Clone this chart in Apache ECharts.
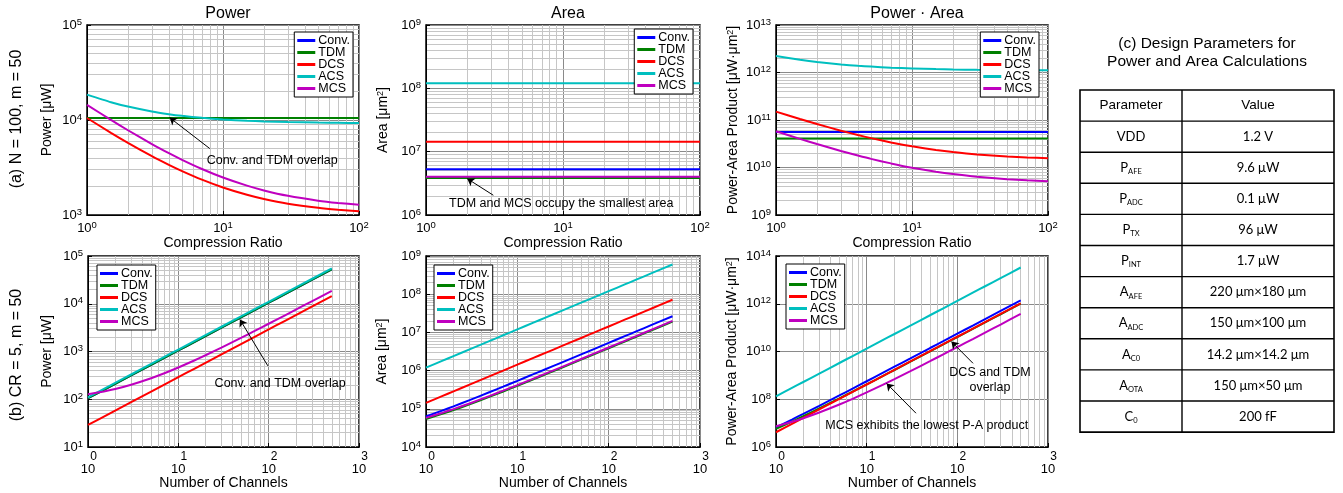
<!DOCTYPE html>
<html>
<head>
<meta charset="utf-8">
<script src="https://cdn.jsdelivr.net/npm/echarts@6/dist/echarts.min.js"></script>
<style>
  html, body { margin: 0; padding: 0; background: #fff; }
  #chart { width: 1343px; height: 493px; }
</style>
</head>
<body>
<div id="chart"></div>
<script>
const FONT = '"Liberation Sans", Arial, sans-serif';
const seriesNames = ['Conv.', 'TDM', 'DCS', 'ACS', 'MCS'];
const colors = ['#0000ff', '#008000', '#ff0000', '#00bfbf', '#bf00bf'];

// (a) sweep of compression ratio, N = 100, m = 50  (order of rows = seriesNames)
const crValues = [1, 1.5, 2, 3, 4, 5, 7, 10, 15, 20, 30, 50, 70, 100];
const powerByCR = [
  [10500, 10500, 10500, 10500, 10500, 10500, 10500, 10500, 10500, 10500, 10500, 10500, 10500, 10500],
  [10500, 10500, 10500, 10500, 10500, 10500, 10500, 10500, 10500, 10500, 10500, 10500, 10500, 10500],
  [10500, 7333, 5750, 4167, 3375, 2900, 2357, 1950, 1633, 1475, 1317, 1190, 1136, 1095],
  [18500, 15400, 13850, 12300, 11525, 11060, 10530, 10130, 9820, 9665, 9510, 9386, 9333, 9293],
  [14450, 10017, 7800, 5583, 4475, 3810, 3050, 2480, 2037, 1815, 1593, 1416, 1340, 1283]
];
const areaByCR = [
  [5.3e6, 5.3e6, 5.3e6, 5.3e6, 5.3e6, 5.3e6, 5.3e6, 5.3e6, 5.3e6, 5.3e6, 5.3e6, 5.3e6, 5.3e6, 5.3e6],
  [3.85e6, 3.85e6, 3.85e6, 3.85e6, 3.85e6, 3.85e6, 3.85e6, 3.85e6, 3.85e6, 3.85e6, 3.85e6, 3.85e6, 3.85e6, 3.85e6],
  [1.43e7, 1.43e7, 1.43e7, 1.43e7, 1.43e7, 1.43e7, 1.43e7, 1.43e7, 1.43e7, 1.43e7, 1.43e7, 1.43e7, 1.43e7, 1.43e7],
  [1.2e8, 1.2e8, 1.2e8, 1.2e8, 1.2e8, 1.2e8, 1.2e8, 1.2e8, 1.2e8, 1.2e8, 1.2e8, 1.2e8, 1.2e8, 1.2e8],
  [4.0e6, 4.0e6, 4.0e6, 4.0e6, 4.0e6, 4.0e6, 4.0e6, 4.0e6, 4.0e6, 4.0e6, 4.0e6, 4.0e6, 4.0e6, 4.0e6]
];
const paByCR = [
  [5.6e10, 5.6e10, 5.6e10, 5.6e10, 5.6e10, 5.6e10, 5.6e10, 5.6e10, 5.6e10, 5.6e10, 5.6e10, 5.6e10, 5.6e10, 5.6e10],
  [4.1e10, 4.1e10, 4.1e10, 4.1e10, 4.1e10, 4.1e10, 4.1e10, 4.1e10, 4.1e10, 4.1e10, 4.1e10, 4.1e10, 4.1e10, 4.1e10],
  [1.50e11, 1.05e11, 8.22e10, 5.96e10, 4.83e10, 4.15e10, 3.37e10, 2.79e10, 2.34e10, 2.11e10, 1.88e10, 1.70e10, 1.62e10, 1.57e10],
  [2.22e12, 1.85e12, 1.66e12, 1.48e12, 1.38e12, 1.33e12, 1.26e12, 1.22e12, 1.18e12, 1.16e12, 1.14e12, 1.13e12, 1.12e12, 1.115e12],
  [5.78e10, 4.01e10, 3.12e10, 2.23e10, 1.79e10, 1.52e10, 1.22e10, 9.92e9, 8.15e9, 7.26e9, 6.37e9, 5.66e9, 5.36e9, 5.13e9]
];

// (b) sweep of number of channels, CR = 5, m = 50
const channelValues = [1, 1.5, 2, 3, 5, 7, 10, 15, 20, 30, 50, 70, 100, 150, 200, 300, 500];
const powerByN = [
  [105, 157.5, 210, 315, 525, 735, 1050, 1575, 2100, 3150, 5250, 7350, 10500, 15750, 21000, 31500, 52500],
  [105, 157.5, 210, 315, 525, 735, 1050, 1575, 2100, 3150, 5250, 7350, 10500, 15750, 21000, 31500, 52500],
  [29, 43.5, 58, 87, 145, 203, 290, 435, 580, 870, 1450, 2030, 2900, 4350, 5800, 8700, 14500],
  [110, 165, 220, 330, 550, 770, 1100, 1650, 2200, 3300, 5500, 7700, 11000, 16500, 22000, 33000, 55000],
  [127, 146, 164, 202, 276, 350, 462, 648, 834, 1206, 1950, 2694, 3810, 5670, 7530, 11250, 18690]
];
const areaByN = [
  [6.3e4, 8.95e4, 1.16e5, 1.69e5, 2.75e5, 3.81e5, 5.4e5, 8.05e5, 1.07e6, 1.6e6, 2.66e6, 3.72e6, 5.31e6, 7.96e6, 1.061e7, 1.591e7, 2.651e7],
  [5.43e4, 7.35e4, 9.26e4, 1.309e5, 2.075e5, 2.841e5, 3.99e5, 5.905e5, 7.82e5, 1.165e6, 1.931e6, 2.697e6, 3.846e6, 5.761e6, 7.676e6, 1.1506e7, 1.9166e7],
  [1.43e5, 2.15e5, 2.86e5, 4.29e5, 7.15e5, 1.0e6, 1.43e6, 2.15e6, 2.86e6, 4.29e6, 7.15e6, 1.0e7, 1.43e7, 2.15e7, 2.86e7, 4.29e7, 7.15e7],
  [1.2e6, 1.8e6, 2.4e6, 3.6e6, 6e6, 8.4e6, 1.2e7, 1.8e7, 2.4e7, 3.6e7, 6e7, 8.4e7, 1.2e8, 1.8e8, 2.4e8, 3.6e8, 6e8],
  [5.8e4, 7.8e4, 9.8e4, 1.38e5, 2.18e5, 2.98e5, 4.18e5, 6.18e5, 8.18e5, 1.218e6, 2.018e6, 2.818e6, 4.018e6, 6.018e6, 8.018e6, 1.2018e7, 2.0018e7]
];
const paByN = [
  [6.62e6, 1.41e7, 2.44e7, 5.32e7, 1.44e8, 2.80e8, 5.67e8, 1.27e9, 2.25e9, 5.04e9, 1.40e10, 2.73e10, 5.58e10, 1.25e11, 2.23e11, 5.01e11, 1.39e12],
  [5.70e6, 1.16e7, 1.94e7, 4.12e7, 1.09e8, 2.09e8, 4.19e8, 9.30e8, 1.64e9, 3.67e9, 1.01e10, 1.98e10, 4.04e10, 9.07e10, 1.61e11, 3.62e11, 1.01e12],
  [4.15e6, 9.34e6, 1.66e7, 3.74e7, 1.04e8, 2.03e8, 4.15e8, 9.34e8, 1.66e9, 3.74e9, 1.04e10, 2.03e10, 4.15e10, 9.34e10, 1.66e11, 3.74e11, 1.04e12],
  [1.32e8, 2.97e8, 5.28e8, 1.188e9, 3.3e9, 6.47e9, 1.32e10, 2.97e10, 5.28e10, 1.188e11, 3.3e11, 6.47e11, 1.32e12, 2.97e12, 5.28e12, 1.188e13, 3.3e13],
  [7.37e6, 1.14e7, 1.61e7, 2.79e7, 6.02e7, 1.04e8, 1.93e8, 4.00e8, 6.82e8, 1.47e9, 3.94e9, 7.59e9, 1.53e10, 3.41e10, 6.04e10, 1.35e11, 3.74e11]
];

// design parameter table
const paramSymbols = ['VDD', 'P', 'P', 'P', 'P', 'A', 'A', 'A', 'A', 'C'];
const paramSubs = ['', 'AFE', 'ADC', 'TX', 'INT', 'AFE', 'ADC', 'C0', 'OTA', '0'];
const paramValues = ['1.2 V', '9.6 μW', '0.1 μW', '96 μW', '1.7 μW', '220 μm×180 μm',
  '150 μm×100 μm', '14.2 μm×14.2 μm', '150 μm×50 μm', '200 fF'];

const panels = [
  { grid: { left: 87, top: 25, width: 272, height: 190 }, xs: crValues, ys: powerByCR, xr: [1, 100], yr: [1e3, 1e5], yStep: 1,
    title: 'Power', xName: 'Compression Ratio', yName: 'Power [μW]', yGap: 33, legend: { right: 990, top: 32 } },
  { grid: { left: 426, top: 25, width: 274, height: 190 }, xs: crValues, ys: areaByCR, xr: [1, 100], yr: [1e6, 1e9], yStep: 1,
    title: 'Area', xName: 'Compression Ratio', yName: 'Area [μm{s|2}]', yGap: 36, legend: { right: 650, top: 29 } },
  { grid: { left: 776, top: 25, width: 272, height: 190 }, xs: crValues, ys: paByCR, xr: [1, 100], yr: [1e9, 1e13], yStep: 1,
    title: 'Power · Area', xName: 'Compression Ratio', yName: 'Power-Area Product [μW·μm{s|2}]', yGap: 36, legend: { right: 304, top: 32 } },
  { grid: { left: 88, top: 256, width: 271, height: 191 }, xs: channelValues, ys: powerByN, xr: [1, 1000], yr: [1e1, 1e5], yStep: 1,
    xName: 'Number of Channels', yName: 'Power [μW]', yGap: 34, legend: { left: 97, top: 265 } },
  { grid: { left: 426, top: 256, width: 274, height: 191 }, xs: channelValues, ys: areaByN, xr: [1, 1000], yr: [1e4, 1e9], yStep: 1,
    xName: 'Number of Channels', yName: 'Area [μm{s|2}]', yGap: 37, legend: { left: 434, top: 265 } },
  { grid: { left: 776, top: 256, width: 272, height: 191 }, xs: channelValues, ys: paByN, xr: [1, 1000], yr: [1e6, 1e14], yStep: 2,
    xName: 'Number of Channels', yName: 'Power-Area Product [μW·μm{s|2}]', yGap: 37, legend: { left: 786, top: 264 }, noMinorY: true }
];

const notes = [
  { panel: 0, text: 'Conv. and TDM overlap', at: [23, 3.7e3], tail: [8, 5.0e3], tip: [4.05, 1.06e4] },
  { panel: 1, text: 'TDM and MCS occupy the smallest area', at: [9.7, 1.54e6], tail: [3.1, 2.05e6], tip: [2.0, 3.75e6] },
  { panel: 3, text: 'Conv. and TDM overlap', at: [134, 215], tail: [98, 500], tip: [48, 4.7e3] },
  { panel: 5, text: 'DCS and TDM\noverlap', at: [229, 6.3e8], tail: [149, 3.2e9], tip: [86, 2.6e10] },
  { panel: 5, text: 'MCS exhibits the lowest P-A product', at: [46, 8.3e6], tail: [35, 2.6e7], tip: [16.6, 4.6e8] }
];

function decadeMinors(lo, hi) {
  const out = [];
  for (let e = Math.round(Math.log10(lo)); e < Math.round(Math.log10(hi)); e++) {
    for (let m = 2; m <= 9; m++) out.push(m * Math.pow(10, e));
  }
  return out;
}
const expOf = v => Math.round(Math.log10(v));
const supRich = {
  b: { fontSize: 13, fontFamily: FONT, color: '#000', lineHeight: 16 },
  e: { fontSize: 9.5, fontFamily: FONT, color: '#000', lineHeight: 8, verticalAlign: 'top' }
};

const option = {
  animation: false,
  backgroundColor: '#fff',
  title: panels.filter(p => p.title).map(p => ({
    text: p.title, left: p.grid.left + p.grid.width / 2, top: 1, textAlign: 'center',
    textStyle: { fontSize: 16, fontWeight: 'normal', fontFamily: FONT, color: '#000' }
  })),
  grid: panels.map(p => Object.assign({ show: true, borderColor: '#000', borderWidth: 1.5, backgroundColor: '#fff', outerBoundsMode: 'none' }, p.grid)),
  legend: panels.map(p => Object.assign({
    orient: 'vertical', data: seriesNames, icon: 'rect', itemWidth: 18, itemHeight: 3, itemGap: -1, z: 8,
    backgroundColor: '#fff', borderColor: '#000', borderWidth: 1, padding: [2, 3, 2, 3], selectedMode: false,
    textStyle: { fontSize: 12.5, fontFamily: FONT, color: '#000', lineHeight: 11, padding: [0, 0, 0, -2] }
  }, p.legend)),
  xAxis: panels.map((p, i) => ({
    type: 'log', logBase: 10, gridIndex: i, min: p.xr[0], max: p.xr[1], interval: 1,
    name: p.xName, nameLocation: 'middle', nameGap: i < 3 ? 21 : 27,
    nameTextStyle: { fontSize: 14, fontFamily: FONT, color: '#000' },
    axisLine: { show: true, lineStyle: { color: '#000', width: 1 } },
    axisTick: { show: true, inside: true, length: 4, lineStyle: { color: '#000' } },
    splitLine: { show: true, lineStyle: { color: '#8a8a8a', width: 1 } },
    axisLabel: i < 3
      ? { margin: 5, formatter: v => '{b|10}{e|' + expOf(v) + '}', rich: supRich }
      : { margin: 4, formatter: v => '{e|' + expOf(v) + '}\n{b|10}', rich: {
          e: { fontSize: 12, fontFamily: FONT, color: '#000', lineHeight: 11, padding: [0, 0, 0, 11] },
          b: { fontSize: 13, fontFamily: FONT, color: '#000', lineHeight: 14 } } }
  })),
  yAxis: panels.map((p, i) => ({
    type: 'log', logBase: 10, gridIndex: i, min: p.yr[0], max: p.yr[1], interval: p.yStep,
    name: p.yName, nameLocation: 'middle', nameGap: p.yGap,
    nameTextStyle: { fontSize: 14, fontFamily: FONT, color: '#000',
      rich: { s: { fontSize: 9, fontFamily: FONT, color: '#000', lineHeight: 8, verticalAlign: 'top' } } },
    axisLine: { show: true, lineStyle: { color: '#000', width: 1 } },
    axisTick: { show: true, inside: true, length: 4, lineStyle: { color: '#000' } },
    splitLine: { show: true, lineStyle: { color: '#8a8a8a', width: 1 } },
    axisLabel: { margin: 5, formatter: v => '{b|10}{e|' + expOf(v) + '}', rich: supRich }
  })),
  series: [],
  graphic: []
};

panels.forEach((p, i) => {
  // minor log grid, kept under the curves
  const gridLines = decadeMinors(p.xr[0], p.xr[1]).map(v => ({ xAxis: v }));
  if (!p.noMinorY) decadeMinors(p.yr[0], p.yr[1]).forEach(v => gridLines.push({ yAxis: v }));
  option.series.push({
    type: 'line', name: 'grid' + i, xAxisIndex: i, yAxisIndex: i, data: [], silent: true, z: 0,
    markLine: { silent: true, z: 0, symbol: ['none', 'none'], label: { show: false },
      lineStyle: { color: '#c6c6c6', width: 1, type: 'solid' }, emphasis: { disabled: true }, data: gridLines }
  });
  seriesNames.forEach((name, j) => {
    option.series.push({
      type: 'line', name, xAxisIndex: i, yAxisIndex: i, showSymbol: false, smooth: 0.2, z: 3,
      lineStyle: { color: colors[j], width: 2 }, itemStyle: { color: colors[j] },
      data: p.xs.map((x, k) => [x, p.ys[j][k]])
    });
  });
});

notes.forEach((n, k) => {
  option.series.push({
    type: 'line', name: 'note' + k, xAxisIndex: n.panel, yAxisIndex: n.panel, data: [], silent: true, z: 6,
    markLine: { silent: true, z: 6, symbol: ['none', 'arrow'], symbolSize: 7, label: { show: false },
      lineStyle: { color: '#000', width: 1, type: 'solid' }, emphasis: { disabled: true },
      data: [[{ coord: n.tail }, { coord: n.tip }]] },
    markPoint: { silent: true, z: 6, symbol: 'rect', symbolSize: 1, itemStyle: { color: 'rgba(0,0,0,0)' },
      label: { show: true, position: 'inside', color: '#000', fontSize: 12.5, fontFamily: FONT, lineHeight: 15, formatter: n.text },
      data: [{ coord: n.at }] }
  });
});

// row captions
option.graphic.push(
  { type: 'text', x: 17, y: 119, rotation: Math.PI / 2,
    style: { text: '(a) N = 100, m = 50', fontSize: 16, fontFamily: FONT, fill: '#000', align: 'center', verticalAlign: 'middle' } },
  { type: 'text', x: 17, y: 355, rotation: Math.PI / 2,
    style: { text: '(b) CR = 5, m = 50', fontSize: 16, fontFamily: FONT, fill: '#000', align: 'center', verticalAlign: 'middle' } },
  { type: 'text', x: 1207, y: 53,
    style: { text: '(c) Design Parameters for\nPower and Area Calculations', fontSize: 15.5, lineHeight: 18,
      fontFamily: FONT, fill: '#000', align: 'center', verticalAlign: 'middle' } }
);

// parameter table
const tLeft = 1080, tTop = 90, tSplit = 1182, tRight = 1334, rowH = 31.1;
const nRows = paramValues.length + 1;
option.graphic.push({ type: 'rect', shape: { x: tLeft, y: tTop, width: tRight - tLeft, height: rowH * nRows },
  style: { fill: '#fff', stroke: '#000', lineWidth: 1.6 } });
option.graphic.push({ type: 'line', shape: { x1: tSplit, y1: tTop, x2: tSplit, y2: tTop + rowH * nRows },
  style: { stroke: '#000', lineWidth: 1.4 } });
for (let r = 1; r < nRows; r++) {
  option.graphic.push({ type: 'line', shape: { x1: tLeft, y1: tTop + r * rowH, x2: tRight, y2: tTop + r * rowH },
    style: { stroke: '#000', lineWidth: 1.4 } });
}
const c1 = (tLeft + tSplit) / 2, c2 = (tSplit + tRight) / 2;
const BODY = 'Lato, "Open Sans", sans-serif';
option.graphic.push(
  { type: 'text', x: c1, y: tTop + rowH / 2, style: { text: 'Parameter', fontSize: 13.5, fontFamily: FONT, fill: '#000', align: 'center', verticalAlign: 'middle' } },
  { type: 'text', x: c2, y: tTop + rowH / 2, style: { text: 'Value', fontSize: 13.5, fontFamily: FONT, fill: '#000', align: 'center', verticalAlign: 'middle' } }
);
paramValues.forEach((val, r) => {
  const cy = tTop + (r + 1.5) * rowH;
  const sym = paramSubs[r] ? '{m|' + paramSymbols[r] + '}{s|' + paramSubs[r] + '}' : '{m|' + paramSymbols[r] + '}';
  option.graphic.push(
    { type: 'text', x: c1, y: cy, style: { text: sym, align: 'center', verticalAlign: 'middle', fill: '#000',
      rich: { m: { fontSize: 13, fontFamily: BODY, fill: '#000', lineHeight: 16 },
              s: { fontSize: 7.5, fontFamily: BODY, fill: '#000', lineHeight: 8, verticalAlign: 'bottom' } } } },
    { type: 'text', x: c2, y: cy, style: { text: val, fontSize: 13, fontFamily: BODY, fill: '#000', align: 'center', verticalAlign: 'middle' } }
  );
});

const chart = echarts.init(document.getElementById('chart'));
chart.setOption(option);
</script>
</body>
</html>
